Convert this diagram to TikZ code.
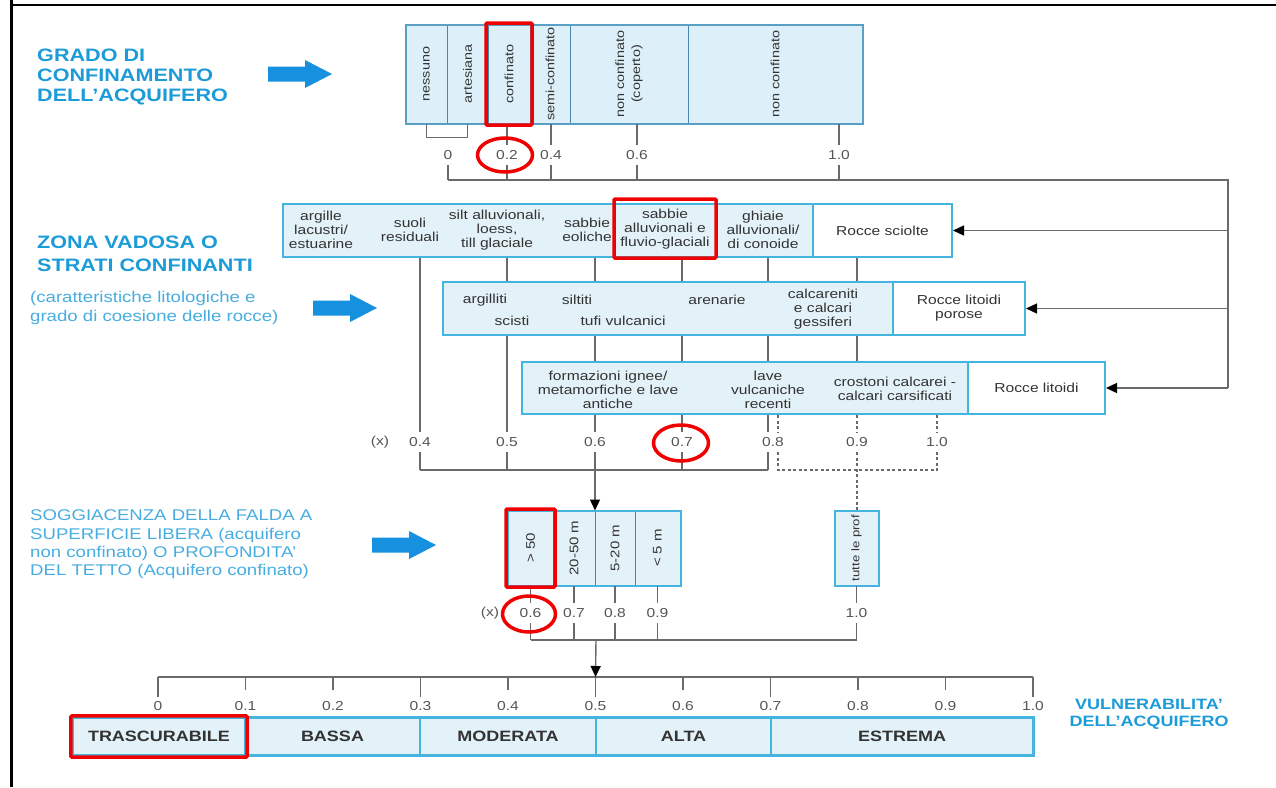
\documentclass[tikz,border=0pt]{standalone}
\usepackage{fontspec}
\setmainfont{Liberation Sans}[FakeStretch=1.2]
\usetikzlibrary{arrows.meta, positioning, fit, shapes.geometric, calc}

\definecolor{headblue}{HTML}{1B9BD7}
\definecolor{noteblue}{HTML}{47ADE0}
\definecolor{arrowblue}{HTML}{1591E0}
\definecolor{tline}{HTML}{5B9FC4}
\definecolor{tdiv}{HTML}{4A86AA}
\definecolor{tfill}{HTML}{DDEFF8}
\definecolor{boxline}{HTML}{45B5E0}
\definecolor{boxfill}{HTML}{E3F1F8}
\definecolor{linegray}{HTML}{6A6A6A}
\definecolor{numgray}{HTML}{555555}
\definecolor{txt}{HTML}{333333}
\definecolor{markred}{HTML}{F00000}

\newcommand{\headsize}{\fontsize{18}{20}\selectfont\bfseries}
\newcommand{\notesize}{\fontsize{15.5}{19}\selectfont}
\newcommand{\sogsize}{\fontsize{15.5}{18.3}\selectfont}
\newcommand{\cellsize}{\fontsize{13}{14}\selectfont}
\newcommand{\rotsize}{\fontsize{12}{16}\selectfont}
\newcommand{\numsize}{\fontsize{13}{14}\selectfont}
\newcommand{\classsize}{\fontsize{15}{17}\selectfont\bfseries}

\begin{document}
\begin{tikzpicture}[
  x=1pt, y=-1pt,
  head/.style={font=\headsize, text=headblue, align=left, inner sep=0pt},
  note/.style={font=\notesize, text=noteblue, align=left, inner sep=0pt},
  conn/.style={draw=linegray, line width=1.4pt},
  dashline/.style={conn, dash pattern=on 3pt off 2.5pt},
  arrow/.style={conn, -{Triangle[length=11pt, width=10pt, color=black]}},
  tcell/.style={draw=tdiv, fill=tfill, line width=1pt, inner sep=0pt, minimum height=98},
  tframe/.style={draw=tline, line width=2pt},
  vtext/.style={rotate=90, font=\rotsize, text=txt, align=center, inner sep=0pt},
  zbox/.style={draw=boxline, fill=boxfill, line width=2pt, inner sep=0pt, minimum height=53},
  ztext/.style={font=\cellsize, text=txt, align=center, inner sep=0pt},
  scell/.style={draw=tdiv, fill=boxfill, line width=1pt, inner sep=0pt, minimum height=74},
  vcell/.style={draw=boxline, fill=boxfill, line width=1.2pt, inner sep=0pt,
                minimum height=37, font=\classsize, text=txt},
  num/.style={font=\numsize, text=numgray, inner sep=0pt, minimum height=20},
  redmark/.style={draw=markred, line width=3.5pt, rounded corners=1pt, inner sep=1.5pt},
  redring/.style={ellipse, draw=markred, line width=3.5pt, inner sep=0pt},
  fatarrow/.pic={\fill[arrowblue] (0,-7.5) -- (37,-7.5) -- (37,-14) -- (64,0)
                 -- (37,14) -- (37,7.5) -- (0,7.5) -- cycle;}
]
\useasboundingbox (0,0) rectangle (1276,787);

% page frame
\draw[line width=3pt] (11,0) -- (11,787);
\draw[line width=2pt] (11,5) -- (1276,5);

% grado di confinamento
\node[head, anchor=west] (grado) at (37,77) {GRADO DI\\CONFINAMENTO\\DELL'ACQUIFERO};
\pic at (268,74) {fatarrow};

\foreach \nm/\cx/\w/\txt in {nessuno/426.5/41/nessuno, artesiana/467.5/41/artesiana,
    confinato/509/42/confinato, semiconf/550/40/semi-confinato,
    coperto/629/118/{non confinato\\(coperto)}, nonconf/775/174/non confinato}{
  \node[tcell, minimum width=\w] (\nm) at (\cx,74) {};
  \node[vtext] (\nm-t) at (\nm) {\txt};
}
\draw[tframe] (nessuno.north west) rectangle (nonconf.south east);

\node[num] (c0) at (448,155) {0};
\node[num] (c02) at (507,155) {0.2};
\node[num] (c04) at (551,155) {0.4};
\node[num] (c06) at (637,155) {0.6};
\node[num] (c10) at (839,155) {1.0};

\draw[conn] (nessuno.south) -- ++(0,14) -| (artesiana.south);
\foreach \c in {c02,c04,c06,c10}
  \draw[conn] (\c.north |- confinato.south) -- (\c.north);

% zona vadosa
\node[head, anchor=west, font=\fontsize{18}{23}\selectfont\bfseries] (zona) at (37,253.5)
  {ZONA VADOSA O\\STRATI CONFINANTI};
\node[note, anchor=west] (carat) at (30,307.5)
  {(caratteristiche litologiche e\\grado di coesione delle rocce)};
\pic at (313,308) {fatarrow};

\node[zbox, minimum width=530] (sciolti) at (548,230.5) {};
\node[zbox, fill=white, minimum width=139] (sciolte) at (882.5,230.5) {};
\node[ztext] (argille) at (321,230) {argille\\lacustri/\\estuarine};
\node[ztext] (suoli) at (410,230) {suoli\\residuali};
\node[ztext] (silt) at (497,230) {silt alluvionali,\\loess,\\till glaciale};
\node[ztext] (eoliche) at (587,230) {sabbie\\eoliche};
\node[ztext] (fluvio) at (665,229) {sabbie\\alluvionali e\\fluvio-glaciali};
\node[ztext] (ghiaie) at (763,230) {ghiaie\\alluvionali/\\di conoide};
\node[ztext] (sciolte-t) at (sciolte) {Rocce sciolte};

\node[zbox, minimum width=450] (rocce) at (668,308.5) {};
\node[zbox, fill=white, minimum width=132] (porose) at (959,308.5) {};
\node[ztext] (argilliti) at (485,300) {argilliti};
\node[ztext] (scisti) at (512,321) {scisti};
\node[ztext] (siltiti) at (577,300) {siltiti};
\node[ztext] (tufi) at (623,321) {tufi vulcanici};
\node[ztext] (arenarie) at (717,300) {arenarie};
\node[ztext] (calcareniti) at (823,309) {calcareniti\\e calcari\\gessiferi};
\node[ztext] (porose-t) at (porose) {Rocce litoidi\\porose};

\node[zbox, minimum width=446, minimum height=52] (lave) at (745,388) {};
\node[zbox, fill=white, minimum width=137, minimum height=52] (litoidi) at (1036.5,388) {};
\node[ztext] (ignee) at (608,390) {formazioni ignee/\\metamorfiche e lave\\antiche};
\node[ztext] (recenti) at (768,390) {lave\\vulcaniche\\recenti};
\node[ztext] (crostoni) at (895,389) {crostoni calcarei -\\calcari carsificati};
\node[ztext] (litoidi-t) at (litoidi) {Rocce litoidi};

% right feed from the top scale
\coordinate (tbus) at (1228,180);
\foreach \c in {c0,c02,c04,c06,c10}
  \draw[conn] (\c.south) -- (\c.south |- tbus);
\draw[conn] (c0.south |- tbus) -- (tbus) -- (tbus |- litoidi.east);
\foreach \b in {sciolte,porose,litoidi}
  \draw[arrow] (tbus |- \b.east) -- (\b.east);

% scale of the vadose zone
\node[num] (vx) at (380,442) {(x)};
\foreach \nm/\cx/\t in {v04/420/0.4, v05/507/0.5, v06/595/0.6, v07/682/0.7,
    v08/773/0.8, v09/857/0.9, v10/937/1.0}
  \node[num] (\nm) at (\cx,442) {\t};
\coordinate (l08) at (768,452);
\coordinate (d08) at (778,452);

\draw[conn] (v04.north |- sciolti.south) -- (v04.north);
\draw[conn] (v05.north |- sciolti.south) -- (v05.north |- rocce.north);
\draw[conn] (v05.north |- rocce.south) -- (v05.north);
\foreach \v in {v06,v07,l08,v09}{
  \draw[conn] (\v |- sciolti.south) -- (\v |- rocce.north);
  \draw[conn] (\v |- rocce.south) -- (\v |- lave.north);
}
\foreach \v in {v06,v07}
  \draw[conn] (\v.north |- lave.south) -- (\v.north);
\draw[conn] (l08 |- lave.south) -- (l08 |- v08.north);
\draw[dashline] (d08 |- lave.south) -- (d08 |- v08.north);
\foreach \v in {v09,v10}
  \draw[dashline] (\v.north |- lave.south) -- (\v.north);

\coordinate (vbus) at (595,470);
\foreach \v in {v04,v05,v06,v07}
  \draw[conn] (\v.south) -- (\v.south |- vbus);
\draw[conn] (l08) -- (l08 |- vbus);
\draw[conn] (v04.south |- vbus) -- (l08 |- vbus);
\draw[dashline] (d08) -- (d08 |- vbus) -- (v10.south |- vbus) -- (v10.south);

% soggiacenza
\node[note, font=\sogsize, anchor=west] (sogg) at (30,544.5)
  {SOGGIACENZA DELLA FALDA A\\SUPERFICIE LIBERA (acquifero\\non confinato) O PROFONDITA'\\DEL TETTO (Acquifero confinato)};
\pic at (372,545) {fatarrow};

\foreach \nm/\cx/\w/\t in {gt50/530.5/45/{> 50}, s2050/574/42/20-50 m, s520/615/40/5-20 m,
    lt5/657.5/45/{< 5 m}}{
  \node[scell, minimum width=\w] (\nm) at (\cx,548) {};
  \node[vtext, font=\fontsize{12.5}{14}\selectfont] (\nm-t) at (\nm) {\t};
}
\node[scell, minimum width=43] (tutte) at (856.5,548) {};
\node[vtext, font=\fontsize{11}{14}\selectfont] (tutte-t) at (tutte) {tutte le prof};
\draw[tframe, draw=boxline] (gt50.north west) rectangle (lt5.south east);
\draw[tframe, draw=boxline] (tutte.north west) rectangle (tutte.south east);

\draw[dashline] (v09.south) -- (v09.south |- tutte.north);
\draw[arrow] (vbus) -- (vbus |- s2050.north);

\node[num] (dx) at (490,613) {(x)};
\node[num] (d06) at (530.5,613) {0.6};
\node[num] (d07) at (574,613) {0.7};
\node[num] (d08) at (615,613) {0.8};
\node[num] (d09) at (657.5,613) {0.9};
\node[num] (d10) at (856.5,613) {1.0};

\coordinate (sbus) at (596,640);
\foreach \c/\d in {gt50/d06, s2050/d07, s520/d08, lt5/d09, tutte/d10}{
  \draw[conn] (\c.south) -- (\d.north);
  \draw[conn] (\d.south) -- (\d.south |- sbus);
}
\draw[conn] (d06.south |- sbus) -- (d10.south |- sbus);

% vulnerability scale
\foreach \i/\t/\len in {0/0/20, 1/0.1/13, 2/0.2/13, 3/0.3/20, 4/0.4/13, 5/0.5/20,
    6/0.6/13, 7/0.7/20, 8/0.8/13, 9/0.9/13, 10/1.0/20}{
  \coordinate (t\i) at ({158+87.5*\i},677);
  \draw[conn] (t\i) -- ++(0,\len);
  \node[num] (n\i) at ({158+87.5*\i},706) {\t};
}
\draw[conn] (t0) -- (t10);
\draw[arrow] (sbus) -- (t5);

\foreach \nm/\cx/\w/\t in {trasc/159/172/TRASCURABILE, bassa/332.5/175/BASSA,
    moderata/508/176/MODERATA, alta/683.5/175/ALTA, estrema/902/262/ESTREMA}
  \node[vcell, minimum width=\w] (\nm) at (\cx,736.5) {\t};
\draw[tframe, draw=boxline] (trasc.north west) rectangle (estrema.south east);

\node[head, font=\fontsize{15}{17}\selectfont\bfseries, align=center] (vuln) at (1149,714.5)
  {VULNERABILITA'\\DELL'ACQUIFERO};

% red marks
\node[redmark, fit=(confinato)] (mark1) {};
\node[redmark, minimum width=102, minimum height=59] (mark2) at (665,228.5) {};
\node[redmark, fit=(gt50)] (mark3) {};
\node[redmark, fit=(trasc)] (mark4) {};
\node[redring, minimum width=55, minimum height=34] (ring1) at (505,155) {};
\node[redring, minimum width=55, minimum height=36] (ring2) at (681,443) {};
\node[redring, minimum width=53, minimum height=36] (ring3) at (529,614) {};
\end{tikzpicture}
\end{document}
